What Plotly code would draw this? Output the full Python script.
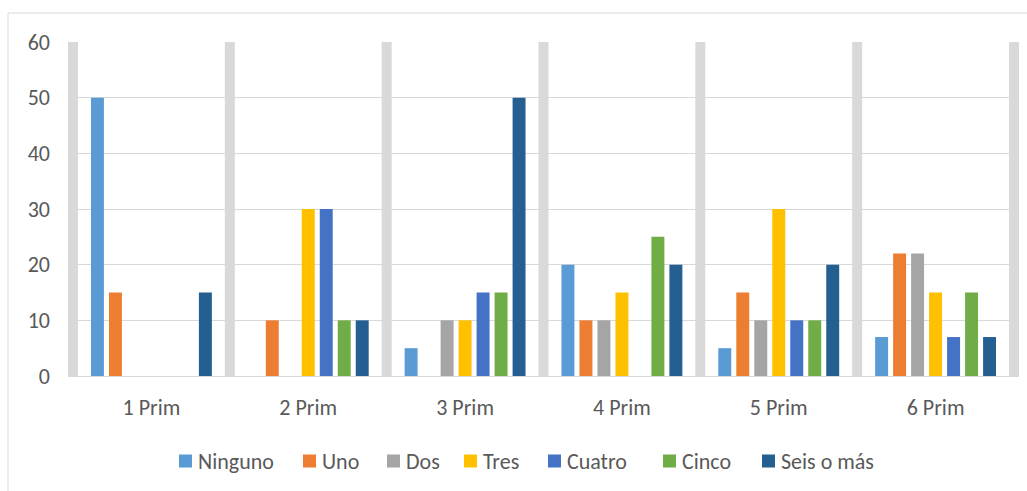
import plotly.graph_objects as go

categories = ["1 Prim", "2 Prim", "3 Prim", "4 Prim", "5 Prim", "6 Prim"]
series_names = ["Ninguno", "Uno", "Dos", "Tres", "Cuatro", "Cinco", "Seis o más"]
ninguno = [50, 0, 5, 20, 5, 7]
uno = [15, 10, 0, 10, 15, 22]
dos = [0, 0, 10, 10, 10, 22]
tres = [0, 30, 10, 15, 30, 15]
cuatro = [0, 30, 15, 0, 10, 7]
cinco = [0, 10, 15, 25, 10, 15]
seis = [15, 10, 50, 20, 20, 7]
y_ticks = [0, 10, 20, 30, 40, 50, 60]

series_values = [ninguno, uno, dos, tres, cuatro, cinco, seis]
colors = ["#5B9BD5", "#ED7D31", "#A5A5A5", "#FFC000", "#4472C4", "#70AD47", "#255E91"]

W, H = 1027, 491
L, R, T, B = 68, 8, 42, 115
plot_w = W - L - R
plot_h = H - T - B
sep_w = 10
unit_px = (plot_w - sep_w) / len(categories)
pad = (sep_w / 2) / unit_px

FONT = "Carlito, Calibri, 'Liberation Sans', Arial, sans-serif"
TEXT_COLOR = "#595959"
FS = 22

# legend layout (pixel positions of each key square, text follows it)
legend_sq_x = [179, 303, 387, 464, 548, 663, 762]
legend_gap = 6
legend_sq = 13
legend_cy = 461


def px_x(p):
    return (p - L) / plot_w


def px_y(p):
    return (H - B - p) / plot_h


fig = go.Figure()
for name, vals, col in zip(series_names, series_values, colors):
    fig.add_trace(go.Bar(
        name=name, x=categories, y=vals,
        marker=dict(color=col, line=dict(width=0)),
        showlegend=False,
    ))

shapes = []
# thick light-grey separators at the category boundaries
for i in range(len(categories) + 1):
    xb = i - 0.5
    shapes.append(dict(
        type="line", xref="x", yref="y",
        x0=xb, x1=xb, y0=0, y1=y_ticks[-1],
        line=dict(color="#D9D9D9", width=sep_w),
        layer="between",
    ))

# chart-area border
shapes.append(dict(
    type="rect", xref="paper", yref="paper",
    x0=px_x(8), x1=px_x(W + 5), y0=px_y(13), y1=px_y(H + 5),
    line=dict(color="#D9D9D9", width=1), fillcolor="rgba(0,0,0,0)",
    layer="below",
))

# legend keys and labels
annotations = []
for name, col, sx in zip(series_names, colors, legend_sq_x):
    shapes.append(dict(
        type="rect", xref="paper", yref="paper",
        x0=px_x(sx), x1=px_x(sx + legend_sq),
        y0=px_y(legend_cy + legend_sq / 2), y1=px_y(legend_cy - legend_sq / 2),
        line=dict(width=0), fillcolor=col,
    ))
    annotations.append(dict(
        xref="paper", yref="paper",
        x=px_x(sx + legend_sq + legend_gap - 2), y=px_y(legend_cy),
        xanchor="left", yanchor="middle",
        text=name, showarrow=False,
        font=dict(family=FONT, size=FS, color=TEXT_COLOR),
    ))

fig.update_layout(
    width=W, height=H,
    margin=dict(l=L, r=R, t=T, b=B, pad=0),
    paper_bgcolor="white", plot_bgcolor="white",
    barmode="group", bargap=0.197, bargroupgap=0.28,
    font=dict(family=FONT, size=FS, color=TEXT_COLOR),
    shapes=shapes,
    annotations=annotations,
    showlegend=False,
    xaxis=dict(
        type="category",
        range=[-0.5 - pad, len(categories) - 0.5 + pad],
        showgrid=False, zeroline=False,
        showline=True, linecolor="#D9D9D9", linewidth=1,
        ticks="", ticklabelstandoff=12,
        tickfont=dict(size=FS, color=TEXT_COLOR),
        fixedrange=True,
    ),
    yaxis=dict(
        range=[0, y_ticks[-1]], tickvals=y_ticks,
        showgrid=True, gridcolor="#D9D9D9", gridwidth=1.3,
        zeroline=False, showline=False,
        ticks="", ticklabelstandoff=17,
        tickfont=dict(size=FS, color=TEXT_COLOR),
        fixedrange=True,
    ),
)

fig.write_html("out.html")
